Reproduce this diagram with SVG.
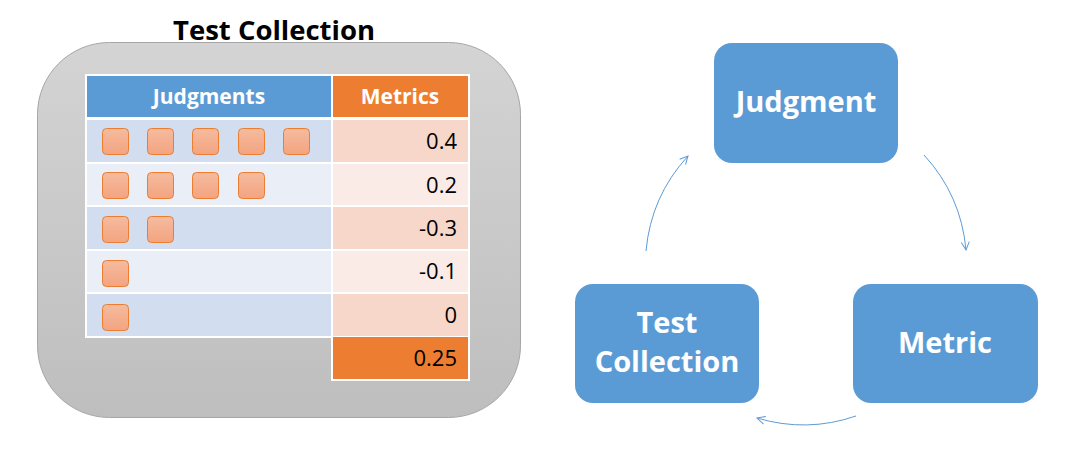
<svg xmlns="http://www.w3.org/2000/svg" width="1069" height="449" viewBox="0 0 1069 449">
<defs>
<linearGradient id="gbox" x1="0" y1="0" x2="0" y2="1">
<stop offset="0" stop-color="#d4d4d4"/>
<stop offset="1" stop-color="#bebebe"/>
</linearGradient>
<linearGradient id="gsq" x1="0" y1="0" x2="0" y2="1">
<stop offset="0" stop-color="#f5bb9f"/>
<stop offset="1" stop-color="#f3a47f"/>
</linearGradient>
<marker id="arr" markerUnits="userSpaceOnUse" markerWidth="12" markerHeight="12" refX="9" refY="5" orient="auto">
<path d="M1,1 L9,5 L1,9" fill="none" stroke="#5b9bd5" stroke-width="1"/>
</marker>
<style>
.sq{fill:url(#gsq);stroke:#ed7d31;stroke-width:1}
.jo{fill:#d2deef}.je{fill:#eaeff7}
.mo{fill:#f8d7cb}.me{fill:#fbebe6}
.val{font-family:"Open Sans","Liberation Sans",sans-serif;font-size:22px;fill:#000;text-anchor:end}
.hd{font-family:"Open Sans","Liberation Sans",sans-serif;font-size:21px;font-weight:bold;fill:#fff;text-anchor:middle}
.node{fill:#5b9bd5}
.nt{font-family:"Open Sans","Liberation Sans",sans-serif;font-size:29px;font-weight:bold;fill:#fff;text-anchor:middle}
.conn{fill:none;stroke:#5b9bd5;stroke-width:1}
</style>
</defs>
<rect width="1069" height="449" fill="#fff"/>
<g id="test-collection-box">
<rect x="37.5" y="42.5" width="483" height="375" rx="72" fill="url(#gbox)" stroke="#a6a6a6" stroke-width="1"/>
<text x="274" y="40" font-family="'Open Sans','Liberation Sans',sans-serif" font-size="27.5" font-weight="bold" fill="#000" text-anchor="middle">Test Collection</text>
</g>
<g id="table">
<rect x="85" y="74" width="385" height="264" fill="#fff"/>
<rect x="331" y="335" width="139" height="46" fill="#fff"/>
<rect x="87" y="76" width="244" height="41" fill="#5b9bd5"/>
<rect x="333" y="76" width="135" height="41" fill="#ed7d31"/>
<text class="hd" x="209" y="104">Judgments</text>
<text class="hd" x="400" y="104">Metrics</text>
<rect class="jo" x="87" y="120" width="244" height="42"/>
<rect class="mo" x="333" y="120" width="135" height="42"/>
<rect class="je" x="87" y="164" width="244" height="41"/>
<rect class="me" x="333" y="164" width="135" height="41"/>
<rect class="jo" x="87" y="207" width="244" height="42"/>
<rect class="mo" x="333" y="207" width="135" height="42"/>
<rect class="je" x="87" y="251" width="244" height="41"/>
<rect class="me" x="333" y="251" width="135" height="41"/>
<rect class="jo" x="87" y="294" width="244" height="42"/>
<rect class="mo" x="333" y="294" width="135" height="42"/>
<rect x="333" y="337" width="135" height="42" fill="#ed7d31"/>
<text class="val" x="457" y="149">0.4</text>
<text class="val" x="457" y="193">0.2</text>
<text class="val" x="457" y="236">-0.3</text>
<text class="val" x="457" y="279">-0.1</text>
<text class="val" x="457" y="323">0</text>
<text class="val" x="457" y="366">0.25</text>
<rect class="sq" x="102.5" y="128.5" width="26" height="26" rx="4"/>
<rect class="sq" x="147.5" y="128.5" width="26" height="26" rx="4"/>
<rect class="sq" x="192.5" y="128.5" width="26" height="26" rx="4"/>
<rect class="sq" x="238.5" y="128.5" width="26" height="26" rx="4"/>
<rect class="sq" x="283.5" y="128.5" width="26" height="26" rx="4"/>
<rect class="sq" x="102.5" y="172.5" width="26" height="26" rx="4"/>
<rect class="sq" x="147.5" y="172.5" width="26" height="26" rx="4"/>
<rect class="sq" x="192.5" y="172.5" width="26" height="26" rx="4"/>
<rect class="sq" x="238.5" y="172.5" width="26" height="26" rx="4"/>
<rect class="sq" x="102.5" y="216.5" width="26" height="26" rx="4"/>
<rect class="sq" x="147.5" y="216.5" width="26" height="26" rx="4"/>
<rect class="sq" x="102.5" y="260.5" width="26" height="26" rx="4"/>
<rect class="sq" x="102.5" y="304.5" width="26" height="26" rx="4"/>
</g>
<g id="connectors">
<path class="conn" d="M924,155 A162,162 0 0 1 966,250" marker-end="url(#arr)"/>
<path class="conn" d="M856,416 A162,162 0 0 1 757,418" marker-end="url(#arr)"/>
<path class="conn" d="M646,251 A162,162 0 0 1 688,156" marker-end="url(#arr)"/>
</g>
<g id="node-judgment">
<rect class="node" x="714" y="43" width="184" height="120" rx="18"/>
<text class="nt" x="806" y="112">Judgment</text>
</g>
<g id="node-metric">
<rect class="node" x="853" y="284" width="185" height="119" rx="18"/>
<text class="nt" x="945" y="353">Metric</text>
</g>
<g id="node-test-collection">
<rect class="node" x="575" y="284" width="184" height="119" rx="18"/>
<text class="nt" x="667" y="333">Test</text>
<text class="nt" x="667" y="372">Collection</text>
</g>
</svg>
